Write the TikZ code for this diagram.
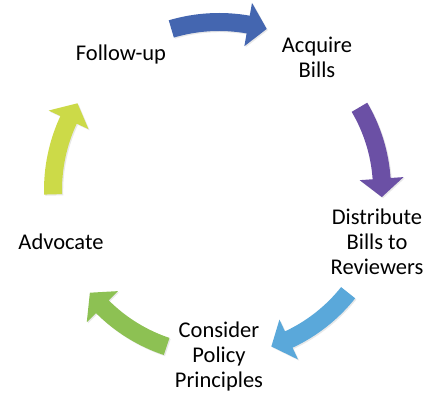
\documentclass[tikz,border=0pt]{standalone}
\usepackage{fontspec}
\setmainfont{Carlito}
\usetikzlibrary{shadows}
\definecolor{arrowblue}{RGB}{68,102,176}
\definecolor{arrowpurple}{RGB}{107,80,165}
\definecolor{arrowsky}{RGB}{90,168,218}
\definecolor{arrowgreen}{RGB}{141,193,83}
\definecolor{arrowlime}{RGB}{204,218,72}
\tikzset{
	steplabel/.style={font=\fontsize{22.5}{25}\selectfont, align=center, inner sep=0pt},
	cyclearrow/.style={fill=#1, draw=none,
		drop shadow={opacity=0.18, shadow xshift=1.2pt, shadow yshift=-1.2pt}}
}
% curved arrow round the hub: mid angle, radius, colour
\newcommand{\turnarrow}[3]{%
	\pgfmathsetmacro{\ta}{#1+16.5}
	\pgfmathsetmacro{\ba}{#1-10}
	\pgfmathsetmacro{\ea}{#1-16.5}
	\pgfmathsetmacro{\rout}{#2+9}
	\pgfmathsetmacro{\rin}{#2-9}
	\pgfmathsetmacro{\rbo}{#2+22}
	\pgfmathsetmacro{\rbi}{#2-22}
	\fill[cyclearrow=#3, shift={(hub)}] (\ta:\rout) arc[start angle=\ta, end angle=\ba, radius=\rout]
		-- (\ba:\rbo) -- (\ea:#2) -- (\ba:\rbi) -- (\ba:\rin)
		arc[start angle=\ba, end angle=\ta, radius=\rin] -- cycle;
}

\begin{document}
\begin{tikzpicture}[x=1pt,y=1pt]
\useasboundingbox (0,0) rectangle (438,393);
\coordinate (hub) at (219,203);

\turnarrow{90}{168}{arrowblue}
\turnarrow{14}{163}{arrowpurple}
\turnarrow{-55}{165}{arrowsky}
\turnarrow{-125}{165}{arrowgreen}
\turnarrow{165}{166}{arrowlime}

\node[steplabel] (acquire) at (317,336) {Acquire\\Bills};
\node[steplabel] (distribute) at (377,151) {Distribute\\Bills to\\Reviewers};
\node[steplabel] (consider) at (219,36) {Consider\\Policy\\Principles};
\node[steplabel] (advocate) at (61,151) {Advocate};
\node[steplabel] (followup) at (121,338) {Follow-up};

\end{tikzpicture}
\end{document}
